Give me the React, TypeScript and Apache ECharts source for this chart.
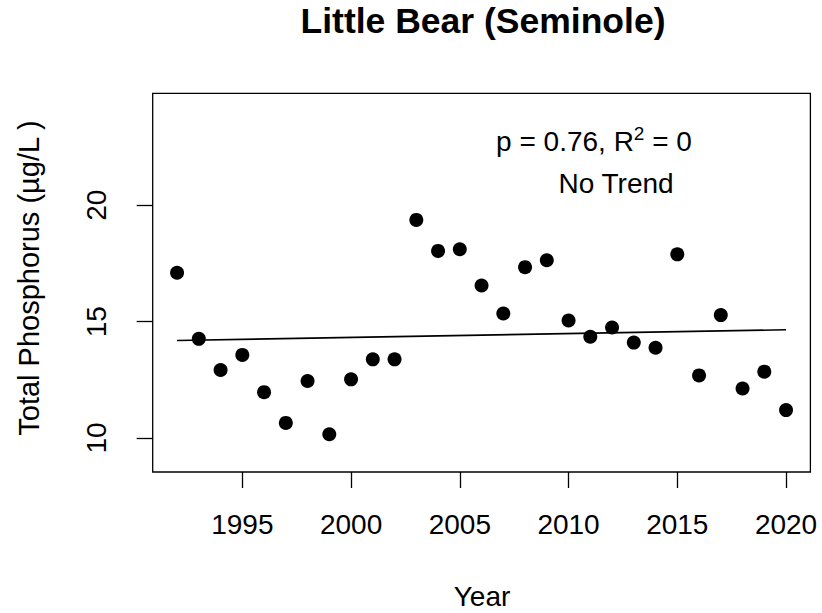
import React, { useEffect, useRef } from "react";
import * as echarts from "echarts";

const years = [1992, 1993, 1994, 1995, 1996, 1997, 1998, 1999, 2000, 2001, 2002, 2003, 2004, 2005, 2006, 2007, 2008, 2009, 2010, 2011, 2012, 2013, 2014, 2015, 2016, 2017, 2018, 2019, 2020];
const totalPhosphorus = [17.10, 14.26, 12.92, 13.57, 11.97, 10.65, 12.45, 10.16, 12.52, 13.38, 13.38, 19.37, 18.04, 18.11, 16.55, 15.35, 17.34, 17.64, 15.05, 14.35, 14.75, 14.10, 13.88, 17.89, 12.69, 15.28, 12.13, 12.85, 11.20];
const trendYears = [1992, 2020];
const trendValues = [14.19, 14.65];
const xTicks = [1995, 2000, 2005, 2010, 2015, 2020];
const yTicks = [10, 15, 20];

const title = "Little Bear (Seminole)";
const xName = "Year";
const yName = "Total Phosphorus (µg/L )";
const statText = "p = 0.76, R{sup|2} = 0";
const trendText = "No Trend";

const FONT = "'Liberation Sans', Arial, Helvetica, sans-serif";
const FS = 28;

export default function App() {
  const ref = useRef<HTMLDivElement>(null);
  useEffect(() => {
    document.body.style.margin = "0";
    const chart = echarts.init(ref.current!, null, { renderer: "svg" });
    chart.setOption({
      animation: false,
      backgroundColor: "#ffffff",
      textStyle: { fontFamily: FONT },
      grid: {
        left: 152.7,
        top: 93.3,
        right: 11.6,
        bottom: 141,
        show: true,
        borderColor: "#000",
        borderWidth: 1.3,
        backgroundColor: "transparent",
      },
      xAxis: {
        type: "value",
        min: 1990.88,
        max: 2021.12,
        splitLine: { show: false },
        axisLine: { show: false },
        axisTick: {
          show: true,
          length: 16,
          customValues: xTicks,
          lineStyle: { color: "#000", width: 1.3 },
        },
        axisLabel: {
          show: true,
          customValues: xTicks,
          margin: 38,
          color: "#000",
          fontSize: FS,
          fontFamily: FONT,
          formatter: (v: number) => String(v),
        },
      },
      yAxis: {
        type: "value",
        min: 8.54,
        max: 24.81,
        splitLine: { show: false },
        axisLine: { show: false },
        axisTick: {
          show: true,
          length: 16,
          customValues: yTicks,
          lineStyle: { color: "#000", width: 1.3 },
        },
        axisLabel: {
          show: true,
          customValues: yTicks,
          rotate: 90,
          margin: 42,
          color: "#000",
          fontSize: FS,
          fontFamily: FONT,
          formatter: (v: number) => String(v),
        },
      },
      graphic: [
        {
          type: "text",
          x: 483,
          y: 21,
          style: {
            text: title,
            fontFamily: FONT,
            fontSize: 35.5,
            fontWeight: "bold",
            fill: "#000",
            align: "center",
            verticalAlign: "middle",
          },
        },
        {
          type: "text",
          x: 482,
          y: 596,
          style: {
            text: xName,
            fontFamily: FONT,
            fontSize: FS,
            fill: "#000",
            align: "center",
            verticalAlign: "middle",
          },
        },
        {
          type: "text",
          x: 29,
          y: 278,
          rotation: Math.PI / 2,
          style: {
            text: yName,
            fontFamily: FONT,
            fontSize: 29,
            fill: "#000",
            align: "center",
            verticalAlign: "middle",
          },
        },
        {
          type: "text",
          x: 594,
          y: 141.5,
          style: {
            text: statText,
            fontFamily: FONT,
            fontSize: FS,
            lineHeight: 36,
            fill: "#000",
            align: "center",
            verticalAlign: "middle",
            rich: {
              sup: { fontSize: 19, lineHeight: 19, fontFamily: FONT, fill: "#000", verticalAlign: "top" },
            },
          },
        },
        {
          type: "text",
          x: 616,
          y: 183,
          style: {
            text: trendText,
            fontFamily: FONT,
            fontSize: FS,
            fill: "#000",
            align: "center",
            verticalAlign: "middle",
          },
        },
      ],
      series: [
        {
          type: "line",
          data: trendYears.map((y, i) => [y, trendValues[i]]),
          symbol: "none",
          lineStyle: { color: "#000", width: 1.6 },
          silent: true,
          z: 1,
        },
        {
          type: "scatter",
          data: years.map((y, i) => [y, totalPhosphorus[i]]),
          symbol: "circle",
          symbolSize: 14,
          itemStyle: { color: "#000", opacity: 1 },
          z: 2,
        },
      ],
    });
    return () => chart.dispose();
  }, []);
  return <div ref={ref} style={{ width: 822, height: 613 }} />;
}
